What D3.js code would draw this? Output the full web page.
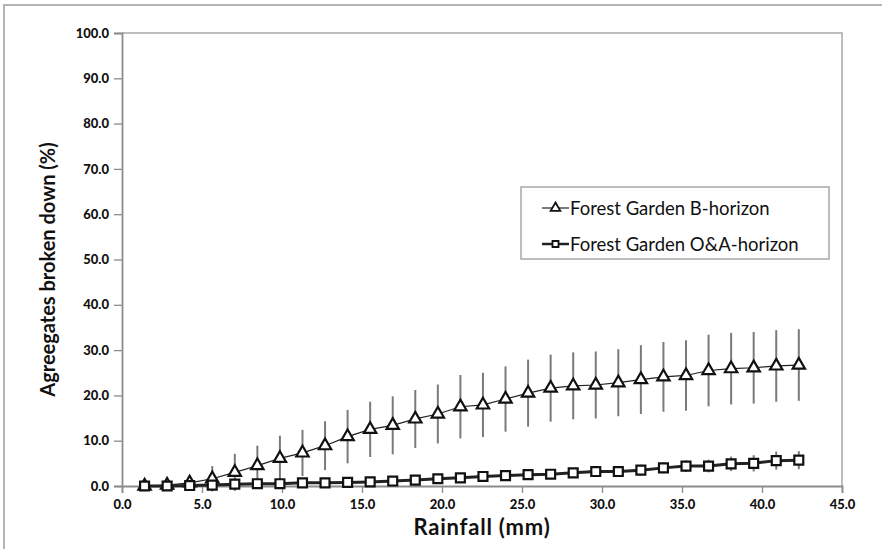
<!DOCTYPE html>
<html>
<head>
<meta charset="utf-8">
<script src="https://cdn.jsdelivr.net/npm/d3@7/dist/d3.min.js"></script>
<style>
  html, body { margin: 0; padding: 0; background: #fff; }
  svg { display: block; font-family: Lato, "Open Sans", sans-serif; }
</style>
</head>
<body>
<svg id="chart" width="882" height="549"></svg>
<script>
// Rainfall steps (mm)
const rainfall = [1.41, 2.82, 4.23, 5.64, 7.05, 8.46, 9.87, 11.28, 12.69, 14.10,
                  15.51, 16.92, 18.33, 19.74, 21.15, 22.56, 23.97, 25.38, 26.79, 28.20,
                  29.61, 31.02, 32.43, 33.84, 35.25, 36.66, 38.07, 39.48, 40.89, 42.30];

// Forest Garden B-horizon: mean and standard deviation (%)
const bHorizonMean = [0.0, 0.2, 0.7, 1.6, 3.0, 4.5, 6.1, 7.3, 8.9, 10.9,
                      12.5, 13.4, 14.8, 15.9, 17.5, 17.9, 19.2, 20.5, 21.6, 22.1,
                      22.3, 22.8, 23.5, 24.1, 24.4, 25.5, 25.9, 26.1, 26.5, 26.7];
const bHorizonSd   = [0.3, 0.4, 1.2, 2.8, 4.1, 4.4, 5.0, 5.1, 5.4, 5.9,
                      6.1, 6.4, 6.4, 6.5, 7.0, 7.1, 7.2, 7.4, 7.4, 7.4,
                      7.4, 7.4, 7.6, 7.7, 7.8, 7.9, 7.9, 7.9, 7.9, 7.9];

// Forest Garden O&A-horizon: mean and standard deviation (%)
const oaHorizonMean = [0.0, 0.0, 0.1, 0.2, 0.4, 0.5, 0.5, 0.7, 0.7, 0.8,
                       0.9, 1.1, 1.3, 1.6, 1.8, 2.1, 2.3, 2.5, 2.6, 2.9,
                       3.2, 3.2, 3.5, 4.0, 4.4, 4.4, 4.9, 5.0, 5.6, 5.7];
const oaHorizonSd   = [0.2, 0.2, 0.3, 0.3, 0.4, 0.4, 0.4, 0.5, 0.5, 0.5,
                       0.6, 0.6, 0.7, 0.7, 0.8, 0.8, 0.9, 0.9, 1.0, 1.0,
                       1.1, 1.1, 1.2, 1.2, 1.3, 1.4, 1.6, 1.8, 2.0, 2.0];

const xTicks = [0, 5, 10, 15, 20, 25, 30, 35, 40, 45];
const yTicks = [0, 10, 20, 30, 40, 50, 60, 70, 80, 90, 100];

const seriesNames = ["Forest Garden B-horizon", "Forest Garden O&A-horizon"];

const svg = d3.select("#chart");
const plot = { left: 122, right: 842, top: 33, bottom: 486 };

const x = d3.scaleLinear().domain([0, 45]).range([plot.left, plot.right]);
const y = d3.scaleLinear().domain([0, 100]).range([plot.bottom, plot.top]);

// outer frame
svg.append("path")
  .attr("d", `M4,549 V5 H882`)
  .attr("fill", "none").attr("stroke", "#b4b4b4").attr("stroke-width", 2);

// plot frame (top and right)
svg.append("path")
  .attr("d", `M${plot.left},${plot.top} H${plot.right} V${plot.bottom}`)
  .attr("fill", "none").attr("stroke", "#a8a8a8").attr("stroke-width", 1.5);

// axes
const fmt = d3.format(".1f");
const yAxis = svg.append("g")
  .attr("transform", `translate(${plot.left},0)`)
  .call(d3.axisLeft(y).tickValues(yTicks).tickFormat(fmt).tickSize(8).tickPadding(5));
const xAxis = svg.append("g")
  .attr("transform", `translate(0,${plot.bottom})`)
  .call(d3.axisBottom(x).tickValues(xTicks).tickFormat(fmt).tickSize(7).tickPadding(7));

[xAxis, yAxis].forEach(g => {
  g.select(".domain").attr("stroke", "#8c8c8c").attr("stroke-width", 1.8);
  g.selectAll(".tick line").attr("stroke", "#8c8c8c").attr("stroke-width", 1.3);
  g.selectAll(".tick text")
    .attr("fill", "#111").attr("font-size", 13).attr("font-weight", 900)
    .attr("font-family", "Lato, sans-serif");
});

// axis titles
svg.append("text")
  .attr("x", 482).attr("y", 535)
  .attr("text-anchor", "middle")
  .attr("font-size", 22).attr("font-weight", 700).attr("fill", "#111")
  .attr("letter-spacing", 0.8)
  .text("Rainfall (mm)");
svg.append("text")
  .attr("transform", `translate(55,${(plot.top + plot.bottom) / 2 + 10}) rotate(-90)`)
  .attr("text-anchor", "middle")
  .attr("font-size", 20).attr("font-weight", 700).attr("fill", "#111")
  .text("Agreegates broken down (%)");

const triangle = d3.symbol(d3.symbolTriangle, 66);
const square = d3.symbol(d3.symbolSquare, 80);

function drawSeries(means, sds, opts) {
  const pts = rainfall.map((r, i) => ({ r, m: means[i], s: sds[i] }));
  const g = svg.append("g");
  // error bars
  g.selectAll("line.err").data(pts).join("line")
    .attr("class", "err")
    .attr("x1", d => x(d.r)).attr("x2", d => x(d.r))
    .attr("y1", d => y(d.m + d.s)).attr("y2", d => y(Math.max(d.m - d.s, -1.5)))
    .attr("stroke", "#7a7a7a").attr("stroke-width", 2);
  // connecting line
  g.append("path").datum(pts)
    .attr("d", d3.line().x(d => x(d.r)).y(d => y(d.m)))
    .attr("fill", "none").attr("stroke", "#222").attr("stroke-width", opts.lineWidth);
  // markers
  g.selectAll("path.mk").data(pts).join("path")
    .attr("class", "mk")
    .attr("d", opts.symbol)
    .attr("transform", d => `translate(${x(d.r)},${y(d.m)})`)
    .attr("fill", "#fff").attr("stroke", "#111").attr("stroke-width", 2.2);
}

drawSeries(bHorizonMean, bHorizonSd, { symbol: triangle, lineWidth: 1.2 });
drawSeries(oaHorizonMean, oaHorizonSd, { symbol: square, lineWidth: 3 });

// legend
const legend = svg.append("g");
legend.append("rect")
  .attr("x", 521).attr("y", 187).attr("width", 308).attr("height", 72)
  .attr("fill", "#fff").attr("stroke", "#a8a8a8").attr("stroke-width", 1.5);
const legendItems = [
  { name: seriesNames[0], symbol: d3.symbol(d3.symbolTriangle, 40), lw: 1.2, y: 208 },
  { name: seriesNames[1], symbol: d3.symbol(d3.symbolSquare, 36), lw: 2.5, y: 244 }
];
legendItems.forEach(it => {
  legend.append("line")
    .attr("x1", 542).attr("x2", 569).attr("y1", it.y).attr("y2", it.y)
    .attr("stroke", "#222").attr("stroke-width", it.lw);
  legend.append("path")
    .attr("d", it.symbol)
    .attr("transform", `translate(555.5,${it.y})`)
    .attr("fill", "#fff").attr("stroke", "#111").attr("stroke-width", 1.8);
  legend.append("text")
    .attr("x", 570).attr("y", it.y + 6.5)
    .attr("font-size", 18.5).attr("fill", "#111")
    .text(it.name);
});
</script>
</body>
</html>
